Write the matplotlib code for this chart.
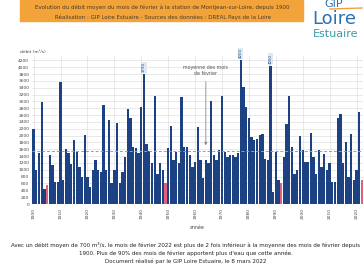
import matplotlib.pyplot as plt
import numpy as np

# Debit moyen de fevrier a Montjean-sur-Loire (m3/s)
years = np.arange(1900, 2023)
debit = [
    2190, 1000, 1500, 2970, 450, 560, 1430, 1140, 650, 650,      # 1900
    3560, 700, 1620, 1480, 1180, 1860, 1530, 1090, 800, 2030,    # 1910
    800, 500, 990, 1280, 990, 940, 2900, 990, 2460, 600,         # 1920
    990, 2360, 600, 940, 1380, 2780, 2520, 1670, 1650, 1500,     # 1930
    2830, 3790, 1750, 1550, 1190, 3170, 890, 1190, 1000, 600,    # 1940
    1650, 2290, 1280, 1530, 1190, 3120, 1670, 1670, 1430, 1090,  # 1950
    1230, 2260, 1300, 750, 1280, 1190, 3000, 1430, 1280, 1575,   # 1960
    3170, 1526, 1380, 1430, 1430, 1380, 1500, 4200, 3420, 2830,  # 1970
    2530, 1950, 1870, 1900, 2030, 2060, 1330, 1280, 4050, 360,   # 1980
    1526, 700, 620, 1380, 2340, 3170, 1670, 890, 1000, 2000,     # 1990
    1575, 1234, 1230, 2090, 1380, 890, 1575, 1089, 1477, 991,    # 2000
    1200, 651, 651, 2520, 2630, 1186, 1820, 797, 2050, 700,      # 2010
    1000, 2680, 700,                                             # 2020
]
red_years = [1905, 1949, 1992, 2022]
labelled_years = [1941, 1977, 1988]
moyenne = 1555

W, H = 363, 267
fig = plt.figure(figsize=(W / 100, H / 100), dpi=100)

# bandeau titre orange
fig.patches.append(plt.Rectangle((20 / W, 1 - 21 / H), 283 / W, 21 / H,
                                 transform=fig.transFigure, color="#f2a33a", zorder=0))
fig.text(162 / W, 1 - 7 / H,
         "Evolution du débit moyen du mois de février à la station de Montjean-sur-Loire, depuis 1900",
         ha="center", va="center", fontsize=4.0, color="#4a3c28")
fig.text(163 / W, 1 - 17 / H,
         "Réalisation : GIP Loire Estuaire - Sources des données : DREAL Pays de la Loire",
         ha="center", va="center", fontsize=4.0, color="#4a3c28")

# logo
fig.text(334 / W, 1 - 4 / H, "GIP", ha="center", va="center", fontsize=8, color="#2b6fb5")
fig.lines.append(plt.Line2D([330 / W, 362 / W], [1 - 9 / H, 1 - 8 / H],
                            transform=fig.transFigure, color="#f0a040", lw=1))
fig.text(334 / W, 1 - 19 / H, "Loire", ha="center", va="center", fontsize=13, color="#2b6fb5")
fig.text(336 / W, 1 - 34 / H, "Estuaire", ha="center", va="center", fontsize=8, color="#3a9aa8")

# graphique
ax = fig.add_axes([32 / W, 1 - 204 / H, 331 / W, (204 - 56) / H])
colors = ["#e0607e" if y in red_years else "#1d4283" for y in years]
ax.bar(years, debit, width=0.86, color=colors, zorder=2)
ax.axhline(moyenne, color="#d9903a", lw=0.7, ls=(0, (3, 2)), zorder=3)

for y in labelled_years:
    v = debit[y - 1900]
    ax.text(y, v + 60, f"{v}", rotation=90, ha="center", va="bottom", fontsize=2.8,
            color="#1d4283", clip_on=False,
            bbox=dict(boxstyle="square,pad=0.15", fc="#dde8f4", ec="none"))

ax.annotate("moyenne des mois\nde février", xy=(1964, moyenne + 80), xytext=(1964, 3900),
            ha="center", va="center", fontsize=3.4, color="#555555",
            arrowprops=dict(arrowstyle="-|>", color="#888888", lw=0.6, mutation_scale=4))

ax.set_xlim(1899.4, 2022.4)
ax.set_ylim(0, 4330)
ax.set_yticks(np.arange(0, 4201, 200))
ax.set_xticks(np.arange(1900, 2021, 10))
ax.tick_params(axis="y", labelsize=3.2, length=0, pad=2, colors="#444444")
ax.tick_params(axis="x", labelsize=3.2, length=0, pad=3, rotation=90, colors="#444444")
ax.grid(True, color="#d8d8d8", lw=0.4, zorder=0)
for s in ax.spines.values():
    s.set_visible(False)
ax.set_xlabel("année", fontsize=3.4, color="#444444", labelpad=4)
fig.text(20 / W, 1 - 52 / H, "débit (m³/s)", ha="left", va="center", fontsize=3.2, color="#444444")

# texte en bas
bas = [
    "Avec un débit moyen de 700 m³/s, le mois de février 2022 est plus de 2 fois inférieur à la moyenne des mois de février depuis",
    "1900. Plus de 90% des mois de février apportent plus d'eau que cette année.",
    "Document réalisé par le GIP Loire Estuaire, le 8 mars 2022",
]
for i, t in enumerate(bas):
    fig.text(186 / W, 1 - (245 + 8 * i) / H, t, ha="center", va="center", fontsize=4.0, color="#222222")

fig.savefig("out.png", dpi=100)
